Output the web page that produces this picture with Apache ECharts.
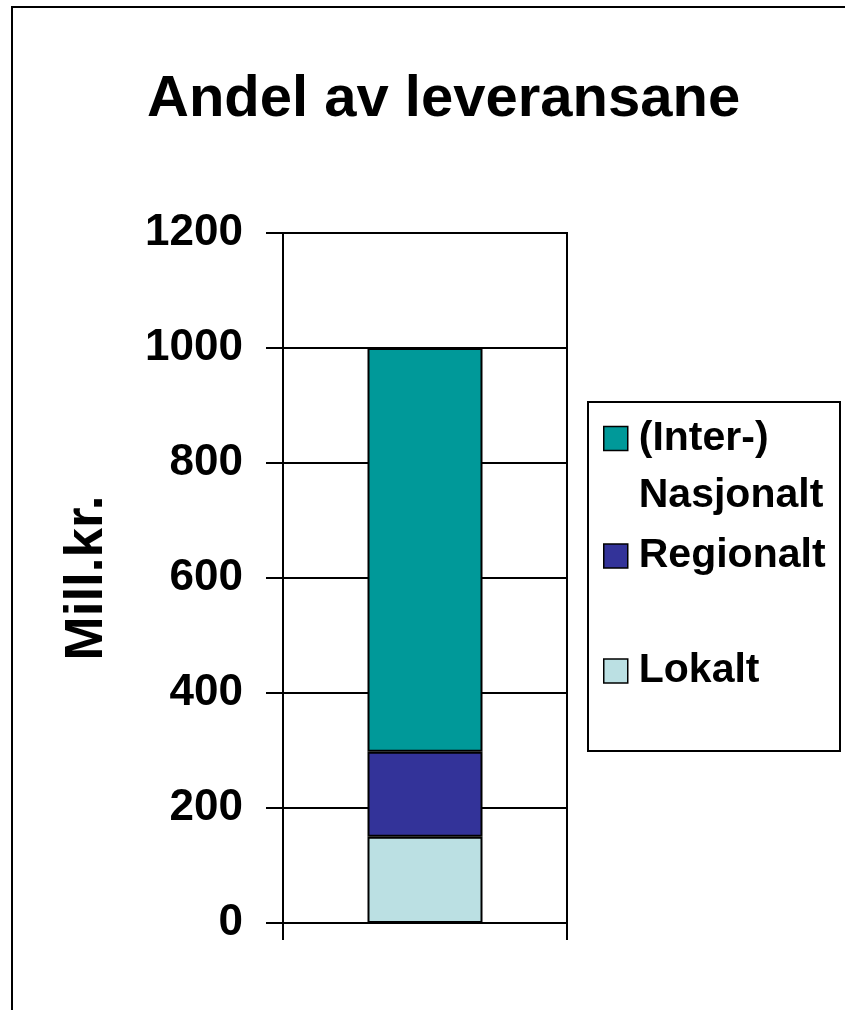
<!DOCTYPE html>
<html>
<head>
<meta charset="utf-8">
<script src="https://cdn.jsdelivr.net/npm/echarts@6/dist/echarts.min.js"></script>
<style>
  html, body { margin: 0; padding: 0; background: #fff; }
  #chart { width: 845px; height: 1010px; }
</style>
</head>
<body>
<div id="chart"></div>
<script>
// data
var categories = ['']
var lokalt = [150]
var regionalt = [148]
var nasjonalt = [702]
var yTicks = [0, 200, 400, 600, 800, 1000, 1200]

var font = 'Arial, "Liberation Sans", sans-serif'
var bold = { fontFamily: font, fontWeight: 'bold', color: '#000' }

function seriesItem(name, values, color) {
  return {
    name: name,
    type: 'bar',
    stack: 'total',
    barWidth: 115,
    data: values,
    itemStyle: { color: color, borderColor: '#000', borderWidth: 2 }
  }
}

function legendItem(name, top, extra) {
  return Object.assign({
    data: [name],
    orient: 'vertical',
    left: 603,
    top: top,
    padding: 0,
    itemWidth: 24,
    itemHeight: 24,
    icon: 'rect',
    selectedMode: false,
    itemStyle: { borderColor: '#000', borderWidth: 1.5 },
    textStyle: Object.assign({}, bold, { fontSize: 41, lineHeight: 48, padding: [0, 0, 0, 6] })
  }, extra || {})
}

var chart = echarts.init(document.getElementById('chart'), null, { renderer: 'canvas' })

var option = {
  animation: false,
  backgroundColor: '#fff',
  title: {
    text: 'Andel av leveransane',
    left: 142,
    top: 66,
    textStyle: Object.assign({}, bold, { fontSize: 58 })
  },
  grid: {
    left: 283,
    right: 278,
    top: 233,
    bottom: 87,
    show: true,
    borderColor: '#000',
    borderWidth: 2,
    containLabel: false
  },
  xAxis: {
    type: 'category',
    data: categories,
    axisLine: { lineStyle: { color: '#000', width: 2 } },
    axisTick: { show: true, length: 17, lineStyle: { color: '#000', width: 2 } },
    axisLabel: { show: false }
  },
  yAxis: {
    type: 'value',
    min: yTicks[0],
    max: yTicks[yTicks.length - 1],
    interval: 200,
    name: 'Mill.kr.',
    nameLocation: 'middle',
    nameGap: 169,
    nameRotate: 90,
    nameTextStyle: Object.assign({}, bold, { fontSize: 53 }),
    axisLine: { show: true, lineStyle: { color: '#000', width: 2 } },
    axisTick: { show: true, length: 17, lineStyle: { color: '#000', width: 2 } },
    axisLabel: Object.assign({}, bold, {
      fontSize: 44,
      margin: 40,
      formatter: function (v) { return String(v) }
    }),
    splitLine: { lineStyle: { color: '#000', width: 2 } }
  },
  legend: [
    // leading blank line keeps the swatch level with the first line of text
    legendItem('(Inter-)\nNasjonalt', 353, {
      formatter: function (name) { return ' \n' + name },
      textStyle: Object.assign({}, bold, { fontSize: 41, lineHeight: 57, padding: [0, 0, 0, 6] })
    }),
    legendItem('Regionalt', 532),
    legendItem('Lokalt', 647)
  ],
  graphic: [
    {
      type: 'rect',
      silent: true,
      shape: { x: 588, y: 402, width: 252, height: 349 },
      style: { fill: 'none', stroke: '#000', lineWidth: 2 }
    },
    {
      type: 'rect',
      silent: true,
      shape: { x: 12, y: 7, width: 900, height: 1100 },
      style: { fill: 'none', stroke: '#000', lineWidth: 2 }
    }
  ],
  series: [
    seriesItem('Lokalt', lokalt, '#BBE0E3'),
    seriesItem('Regionalt', regionalt, '#333399'),
    seriesItem('(Inter-)\nNasjonalt', nasjonalt, '#009999')
  ]
}

chart.setOption(option)
window.addEventListener('resize', function () { chart.resize() })
</script>
</body>
</html>
